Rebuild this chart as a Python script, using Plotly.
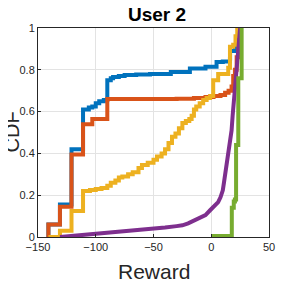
import plotly.graph_objects as go

# Series (stair/step data)
blue_x = [-141, -141, -131, -121, -111, -106, -103, -100, -97, -93, -90, -87, -85, -80, -75, -65, -53, -35, -18.5, -5, 4.6, 10, 16.2, 16.3, 20.5, 22, 24]
blue_y = [0, 0.06, 0.155, 0.42, 0.61, 0.62, 0.625, 0.64, 0.65, 0.655, 0.75, 0.76, 0.765, 0.77, 0.775, 0.778, 0.78, 0.79, 0.806, 0.815, 0.837, 0.84, 0.854, 0.89, 0.9, 0.95, 1.0]

orange_x = [-141, -141, -131, -121, -111, -103, -90, -30, -15, -5, 2, 8, 12, 15, 17.6, 19, 20.5, 22, 23.5, 25]
orange_y = [0, 0.06, 0.145, 0.395, 0.54, 0.565, 0.66, 0.662, 0.665, 0.67, 0.675, 0.68, 0.69, 0.70, 0.72, 0.77, 0.80, 0.86, 0.93, 1.0]

yellow_x = [-141, -131, -121, -111, -105, -100, -95, -90, -87, -83, -80, -77, -72, -68, -63, -60, -55, -50, -47, -43, -40, -37, -34, -31, -28, -25, -22, -19, -17, -15, -13, -10, -7, -4, -1, 1.7, 6, 14.7, 16.2, 19, 21, 22.5]
yellow_y = [0, 0.03, 0.125, 0.22, 0.225, 0.23, 0.235, 0.245, 0.26, 0.27, 0.285, 0.29, 0.30, 0.31, 0.33, 0.345, 0.355, 0.37, 0.385, 0.40, 0.42, 0.45, 0.48, 0.495, 0.52, 0.545, 0.555, 0.565, 0.58, 0.61, 0.625, 0.64, 0.655, 0.665, 0.675, 0.75, 0.78, 0.81, 0.91, 0.92, 0.96, 1.0]

purple_x = [-131, -120, -110, -100, -90, -80, -70, -60, -50, -40, -30, -25, -20, -15, -10, -5, -1, 3, 6, 8, 10, 11, 12, 13.8, 15, 16.2, 17.6, 18.5, 19.5, 21, 22.5, 24, 25]
purple_y = [0, 0.005, 0.01, 0.015, 0.02, 0.025, 0.03, 0.035, 0.04, 0.045, 0.052, 0.056, 0.065, 0.078, 0.092, 0.105, 0.128, 0.15, 0.167, 0.19, 0.223, 0.26, 0.30, 0.35, 0.40, 0.45, 0.51, 0.58, 0.65, 0.75, 0.85, 0.95, 1.0]

green_x = [0.3, 17.8, 19.5, 20.5, 21.5, 23.4, 26.3]
green_y = [0.005, 0.14, 0.17, 0.18, 0.44, 0.76, 1.0]

x_ticks = [-150, -100, -50, 0, 50]
y_ticks = [0, 0.2, 0.4, 0.6, 0.8, 1]
y_tick_labels = ["0", "0.2", "0.4", "0.6", "0.8", "1"]

LW = 4
fig = go.Figure()
fig.add_trace(go.Scatter(x=blue_x, y=blue_y, mode="lines", line=dict(color="#0072BD", width=LW, shape="hv")))
fig.add_trace(go.Scatter(x=orange_x, y=orange_y, mode="lines", line=dict(color="#D95319", width=LW, shape="hv")))
fig.add_trace(go.Scatter(x=yellow_x, y=yellow_y, mode="lines", line=dict(color="#EDB120", width=LW, shape="hv")))
fig.add_trace(go.Scatter(x=purple_x, y=purple_y, mode="lines", line=dict(color="#7E2F8E", width=LW)))
fig.add_trace(go.Scatter(x=green_x, y=green_y, mode="lines", line=dict(color="#77AC30", width=LW, shape="hv")))

axis_common = dict(
    showline=True, linecolor="#262626", linewidth=1, mirror=True,
    showgrid=True, gridcolor="#e3e3e3", gridwidth=1,
    ticks="inside", ticklen=3, tickcolor="#262626",
    tickfont=dict(family="Liberation Sans, Arial", size=11, color="#262626"),
    zeroline=False,
)

# page body adds an 8px offset; margins compensate for it
fig.update_layout(
    width=291, height=284,
    margin=dict(l=30, r=30, t=20, b=55),
    paper_bgcolor="white", plot_bgcolor="white",
    showlegend=False,
    title=dict(text="<b>User 2</b>", x=(157 - 8) / 291, xanchor="center", yref="container", y=1 - 6 / 284, yanchor="middle",
               font=dict(family="Liberation Sans, Arial", size=19, color="black")),
    xaxis=dict(range=[-150, 50], tickvals=x_ticks, **axis_common),
    yaxis=dict(range=[0, 1], tickvals=y_ticks, ticktext=y_tick_labels, **axis_common),
    annotations=[
        dict(text="Reward", xref="paper", yref="paper", x=0.5, y=0, yshift=-34, xanchor="center", yanchor="middle",
             showarrow=False, font=dict(family="Liberation Sans, Arial", size=21, color="#262626")),
        dict(text="CDF", xref="paper", yref="paper", x=0, y=0.5, xshift=-27, textangle=-90, xanchor="center", yanchor="middle",
             showarrow=False, font=dict(family="Liberation Sans, Arial", size=20, color="#262626")),
    ],
)

fig.write_html("out.html")
